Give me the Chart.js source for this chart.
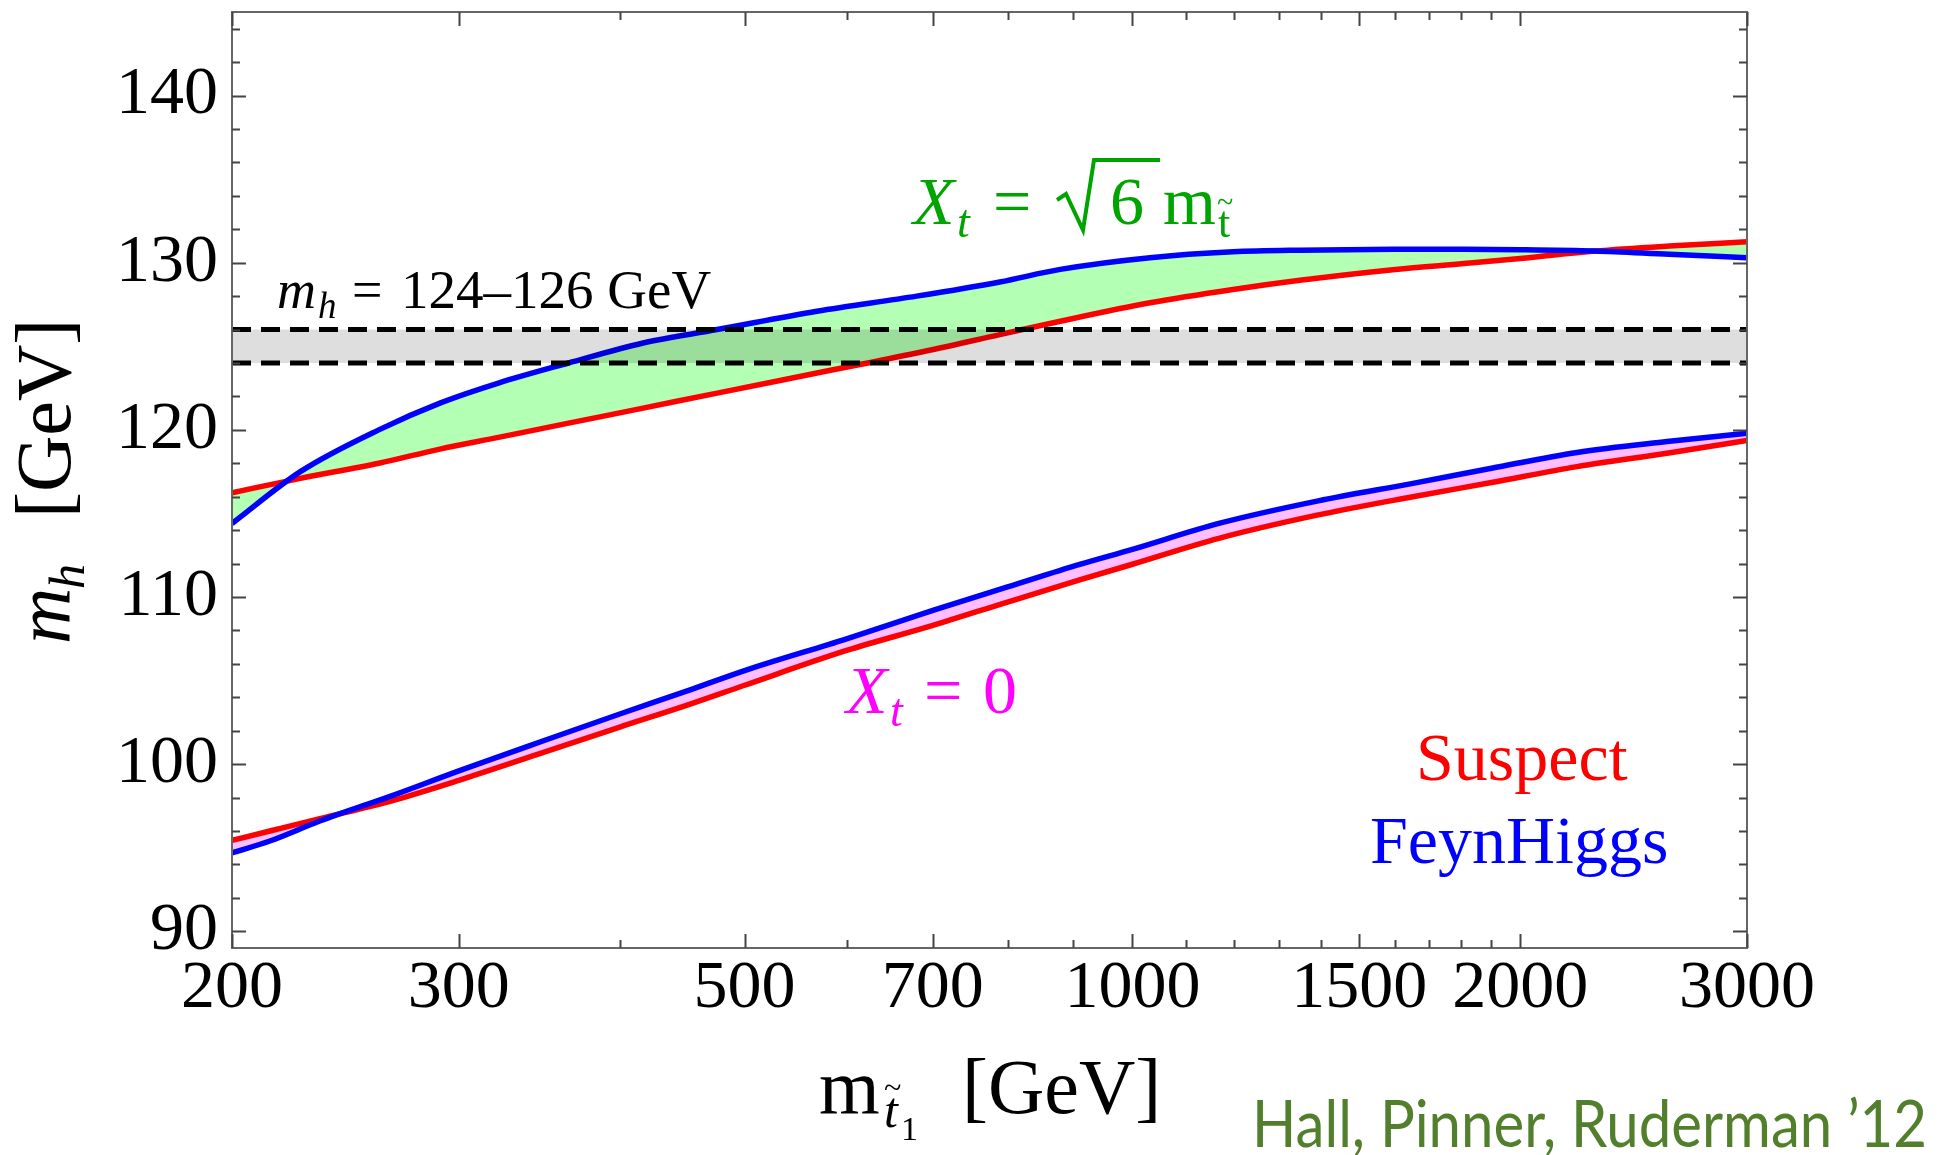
<!DOCTYPE html>
<html>
<head>
<meta charset="utf-8">
<script src="https://cdn.jsdelivr.net/npm/chart.js@4.4.0/dist/chart.umd.min.js"></script>
<style>
html, body { margin: 0; padding: 0; background: #fff; }
#wrap { width: 1943px; height: 1155px; position: relative; }
</style>
</head>
<body>
<div id="wrap"><canvas id="higgsChart"></canvas></div>
<script>
// stop mass (GeV) vs light higgs mass (GeV)
let xMaxMix = [200, 226, 260, 290, 322, 365, 417, 476, 569, 680, 789, 879, 1032, 1197, 1349, 1600, 1808, 2000, 2286, 2610, 3000];
let feynHiggsMaxMix = [114.4, 117.5, 120.0, 121.6, 122.8, 124.0, 125.2, 126.0, 127.1, 128.0, 128.85, 129.6, 130.3, 130.65, 130.75, 130.8, 130.8, 130.78, 130.7, 130.5, 130.3];
let suspectMaxMix = [116.24, 117.1, 118.0, 118.85, 119.55, 120.4, 121.3, 122.2, 123.4, 124.6, 125.7, 126.5, 127.6, 128.4, 128.95, 129.6, 129.95, 130.25, 130.7, 131.0, 131.25];

let xNoMix = [200, 214, 234, 267, 300, 349, 400, 450, 500, 600, 700, 800, 910, 1000, 1167, 1394, 1651, 1900, 2214, 2600, 3000];
let feynHiggsNoMix = [94.69, 95.4, 96.6, 98.15, 99.6, 101.4, 103.0, 104.35, 105.6, 107.5, 109.2, 110.6, 111.95, 112.85, 114.4, 115.75, 116.8, 117.7, 118.65, 119.3, 119.8];
let suspectNoMix = [95.44, 96.0, 96.74, 97.84, 99.03, 100.7, 102.22, 103.5, 104.72, 106.8, 108.3, 109.7, 111.02, 111.96, 113.51, 114.91, 116.0, 116.85, 117.8, 118.6, 119.36];

// LHC window 124-126 GeV
let xBand = [200, 3000];
let bandLow = [124, 124];
let bandHigh = [126, 126];

let xTickLabels = [200, 300, 500, 700, 1000, 1500, 2000, 3000];
let xMinorTicks = [400, 600, 800, 900, 1100, 1200, 1300, 1400, 1600, 1700, 1800, 1900];
let yTickLabels = [90, 100, 110, 120, 130, 140];
let yMinorTicks = [92, 94, 96, 98, 102, 104, 106, 108, 112, 114, 116, 118, 122, 124, 126, 128, 132, 134, 136, 138, 142, 144];

function pts(xs, ys) {
    return xs.map((x, i) => ({ x: x, y: ys[i] }));
}

const SERIF = "'Liberation Serif', 'DejaVu Serif', serif";

// inward frame ticks on all four sides
const frameTicks = {
    id: 'frameTicks',
    afterDatasetsDraw(chart) {
        const ctx = chart.ctx;
        const a = chart.chartArea;
        const sx = chart.scales.x, sy = chart.scales.y;
        ctx.save();
        ctx.strokeStyle = '#666';
        ctx.lineWidth = 2;
        ctx.strokeRect(a.left, a.top, a.right - a.left, a.bottom - a.top);
        ctx.strokeStyle = '#444';
        ctx.beginPath();
        const xt = xTickLabels.map(v => [v, 14]).concat(xMinorTicks.map(v => [v, 8]));
        xt.forEach(([v, len]) => {
            const px = Math.round(sx.getPixelForValue(v)) + 0.5;
            ctx.moveTo(px, a.bottom); ctx.lineTo(px, a.bottom - len);
            ctx.moveTo(px, a.top); ctx.lineTo(px, a.top + len);
        });
        const yt = yTickLabels.map(v => [v, 14]).concat(yMinorTicks.map(v => [v, 8]));
        yt.forEach(([v, len]) => {
            const py = Math.round(sy.getPixelForValue(v)) + 0.5;
            ctx.moveTo(a.left, py); ctx.lineTo(a.left + len, py);
            ctx.moveTo(a.right, py); ctx.lineTo(a.right - len, py);
        });
        ctx.stroke();
        ctx.restore();
    }
};

function txt(ctx, s, font, color, x, y) {
    ctx.font = font;
    ctx.fillStyle = color;
    ctx.fillText(s, x, y);
    return ctx.measureText(s).width;
}

// labels, titles and the credit line
const labels = {
    id: 'labels',
    afterDraw(chart) {
        const ctx = chart.ctx;
        ctx.save();
        ctx.textAlign = 'left';
        ctx.textBaseline = 'alphabetic';

        // m_h = 124-126 GeV
        txt(ctx, 'm', 'italic 54px ' + SERIF, '#000', 277, 308);
        txt(ctx, 'h', 'italic 37px ' + SERIF, '#000', 318, 318);
        txt(ctx, '=', '54px ' + SERIF, '#000', 352, 308);
        txt(ctx, '124\u2013126 GeV', '55px ' + SERIF, '#000', 401, 308);

        // X_t = sqrt(6) m_stop
        const g = '#00a400';
        txt(ctx, 'X', 'italic 68px ' + SERIF, g, 913, 224);
        txt(ctx, 't', 'italic 46px ' + SERIF, g, 957, 237);
        txt(ctx, '=', '68px ' + SERIF, g, 993, 224);
        ctx.strokeStyle = g;
        ctx.lineWidth = 4;
        ctx.lineJoin = 'miter';
        ctx.beginPath();
        ctx.moveTo(1057, 200); ctx.lineTo(1066, 194);
        ctx.lineTo(1083, 230); ctx.lineTo(1094, 160); ctx.lineTo(1160, 160);
        ctx.stroke();
        txt(ctx, '6', '68px ' + SERIF, g, 1110, 224);
        txt(ctx, 'm', '68px ' + SERIF, g, 1163, 224);
        txt(ctx, 't', '44px ' + SERIF, g, 1218, 237);
        txt(ctx, '~', '30px ' + SERIF, g, 1217, 212);

        // X_t = 0
        const mg = '#ff00ff';
        txt(ctx, 'X', 'italic 68px ' + SERIF, mg, 846, 713);
        txt(ctx, 't', 'italic 46px ' + SERIF, mg, 890, 726);
        txt(ctx, '=', '68px ' + SERIF, mg, 924, 713);
        txt(ctx, '0', '68px ' + SERIF, mg, 983, 713);

        // code labels
        txt(ctx, 'Suspect', '68px ' + SERIF, '#ff0000', 1416, 780);
        txt(ctx, 'FeynHiggs', '68px ' + SERIF, '#0000ff', 1370, 863);

        // x axis title
        txt(ctx, 'm', '78px ' + SERIF, '#000', 819, 1113);
        txt(ctx, 't', 'italic 50px ' + SERIF, '#000', 884, 1127);
        txt(ctx, '~', '32px ' + SERIF, '#000', 884, 1098);
        txt(ctx, '1', '34px ' + SERIF, '#000', 901, 1140);
        txt(ctx, '[GeV]', '78px ' + SERIF, '#000', 962, 1113);

        // y axis title, rotated
        ctx.save();
        ctx.translate(70, 482);
        ctx.rotate(-Math.PI / 2);
        txt(ctx, 'm', 'italic 78px ' + SERIF, '#000', -162, 0);
        txt(ctx, 'h', 'italic 50px ' + SERIF, '#000', -107, 14);
        txt(ctx, '[GeV]', '78px ' + SERIF, '#000', -36, 0);
        ctx.restore();

        // credit
        ctx.font = '66px Lato, "Open Sans", sans-serif';
        ctx.fillStyle = '#517f2c';
        ctx.fillText('Hall, Pinner, Ruderman \u201912', 1252, 1147, 675);
        ctx.restore();
    }
};

const ctx = document.getElementById('higgsChart');

new Chart(ctx, {
    type: 'line',
    data: {
        datasets: [
            {
                label: 'Suspect Xt=sqrt6',
                data: pts(xMaxMix, suspectMaxMix),
                borderColor: '#ff0000',
                backgroundColor: 'rgb(179,255,179)',
                fill: { target: 1 },
                order: 4
            },
            {
                label: 'FeynHiggs Xt=sqrt6',
                data: pts(xMaxMix, feynHiggsMaxMix),
                borderColor: '#0000ff',
                fill: false,
                order: 3
            },
            {
                label: 'Suspect Xt=0',
                data: pts(xNoMix, suspectNoMix),
                borderColor: '#ff0000',
                backgroundColor: 'rgb(255,190,255)',
                fill: { target: 3 },
                order: 4
            },
            {
                label: 'FeynHiggs Xt=0',
                data: pts(xNoMix, feynHiggsNoMix),
                borderColor: '#0000ff',
                fill: false,
                order: 3
            },
            {
                label: '126',
                data: pts(xBand, bandHigh),
                borderColor: '#000',
                borderWidth: 5,
                borderDash: [19, 10],
                backgroundColor: 'rgba(0,0,0,0.13)',
                fill: { target: 5 },
                order: 1
            },
            {
                label: '124',
                data: pts(xBand, bandLow),
                borderColor: '#000',
                borderWidth: 5,
                borderDash: [19, 10],
                fill: false,
                order: 0
            }
        ]
    },
    options: {
        responsive: true,
        maintainAspectRatio: false,
        animation: false,
        layout: { padding: { left: 0, right: 196, top: 12, bottom: 0 } },
        plugins: {
            legend: { display: false },
            tooltip: { enabled: false },
            filler: { propagate: false }
        },
        elements: {
            point: { radius: 0 },
            line: { borderWidth: 5.5, cubicInterpolationMode: 'monotone' }
        },
        scales: {
            x: {
                type: 'logarithmic',
                min: 200,
                max: 3000,
                grid: { display: false, drawTicks: false },
                border: { display: false },
                afterBuildTicks: s => { s.ticks = xTickLabels.map(v => ({ value: v })); },
                afterFit: s => { s.height = 207; s.paddingLeft = 0; s.paddingRight = 0; },
                ticks: {
                    autoSkip: false,
                    maxRotation: 0,
                    minRotation: 0,
                    padding: 0,
                    color: '#000',
                    font: { family: SERIF, size: 68 },
                    callback: v => String(v)
                }
            },
            y: {
                type: 'linear',
                min: 89,
                max: 145,
                grid: { display: false, drawTicks: false },
                border: { display: false },
                afterBuildTicks: s => { s.ticks = yTickLabels.map(v => ({ value: v })); },
                afterFit: s => { s.width = 232; s.paddingTop = 0; s.paddingBottom = 0; },
                ticks: {
                    padding: 14,
                    color: '#000',
                    font: { family: SERIF, size: 68 },
                    callback: v => String(v)
                }
            }
        }
    },
    plugins: [frameTicks, labels]
});
</script>
</body>
</html>
